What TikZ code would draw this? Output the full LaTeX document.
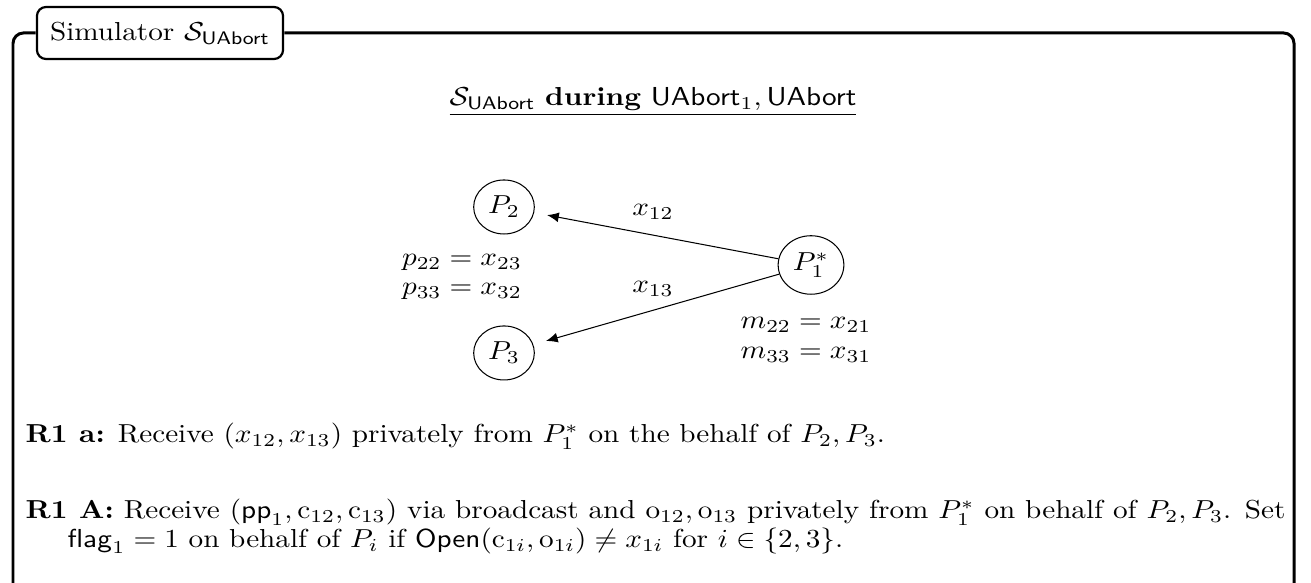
\documentclass[tikz,border=0pt]{standalone}
\usetikzlibrary{arrows.meta}
\begin{document}
\begin{tikzpicture}[xscale=1.123, transform shape, x=0.3425pt, y=-0.3846pt,
  frame/.style={line width=1.15pt, rounded corners=4pt},
  titlebox/.style={draw, line width=0.85pt, rounded corners=3.5pt, minimum width=84.3pt, minimum height=20pt, inner sep=0pt},
  party/.style={draw, circle, line width=0.4pt, inner sep=2.5pt},
  msg/.style={-{Latex[length=4.5pt,width=3.8pt]}, shorten >=5pt},
  lbl/.style={inner sep=0pt, align=center},
  para/.style={inner sep=0pt, anchor=base west}]
\useasboundingbox (0,0) rectangle (1311,583);
% title
\node[titlebox] (title) at (160,33) {Simulator $\mathcal{S}_{\mathsf{UAbort}}$};
\draw[frame] (13,583) -- (13,33) -- (title.west);
\draw[frame] (title.east) -- (1294,33) -- (1294,583);
% heading
\node[inner sep=0pt, anchor=base] (head) at (653,106) {$\underline{\mathcal{S}_{\mathsf{UAbort}}\ \textbf{during}\ \mathsf{UAbort}_1,\mathsf{UAbort}}$};
% parties
\node[party] (p2) at (504,207) {$P_2$};
\node[party] (p3) at (504,353) {$P_3$};
\node[party] (p1) at (811,265) {$P_1^*$};
\draw[msg] (p1) -- (p2);
\draw[msg] (p1) -- (p3);
\node[lbl] (l12) at (653,212) {$x_{12}$};
\node[lbl] (l13) at (653,289) {$x_{13}$};
\node[lbl] (pp) at (462,277) {$p_{22}=x_{23}$\\[-0.6pt]$p_{33}=x_{32}$};
\node[lbl] (mm) at (806,340) {$m_{22}=x_{21}$\\[-0.6pt]$m_{33}=x_{31}$};
% paragraphs
\node[para] (r1a) at (25,443) {\parbox[t]{431.5pt}{\noindent\textbf{R1\hspace{4pt}a:} Receive $(x_{12},x_{13})$ privately from $P_1^*$ on the behalf of $P_2,P_3$.}};
\node[para] (r1A) at (25,519) {\parbox[t]{431.5pt}{\baselineskip=11pt\hangindent=14.4pt\hangafter=1\noindent\textbf{R1\hspace{4pt}A:} Receive $(\mathsf{pp}_1,\mathrm{c}_{12},\mathrm{c}_{13})$ via broadcast and $\mathrm{o}_{12},\mathrm{o}_{13}$ privately from $P_1^*$ on behalf of $P_2,P_3$. Set\linebreak $\mathsf{flag}_1=1$ on behalf of $P_i$ if $\mathsf{Open}(\mathrm{c}_{1i},\mathrm{o}_{1i})\neq x_{1i}$ for $i\in\{2,3\}$.}};
\end{tikzpicture}
\end{document}
